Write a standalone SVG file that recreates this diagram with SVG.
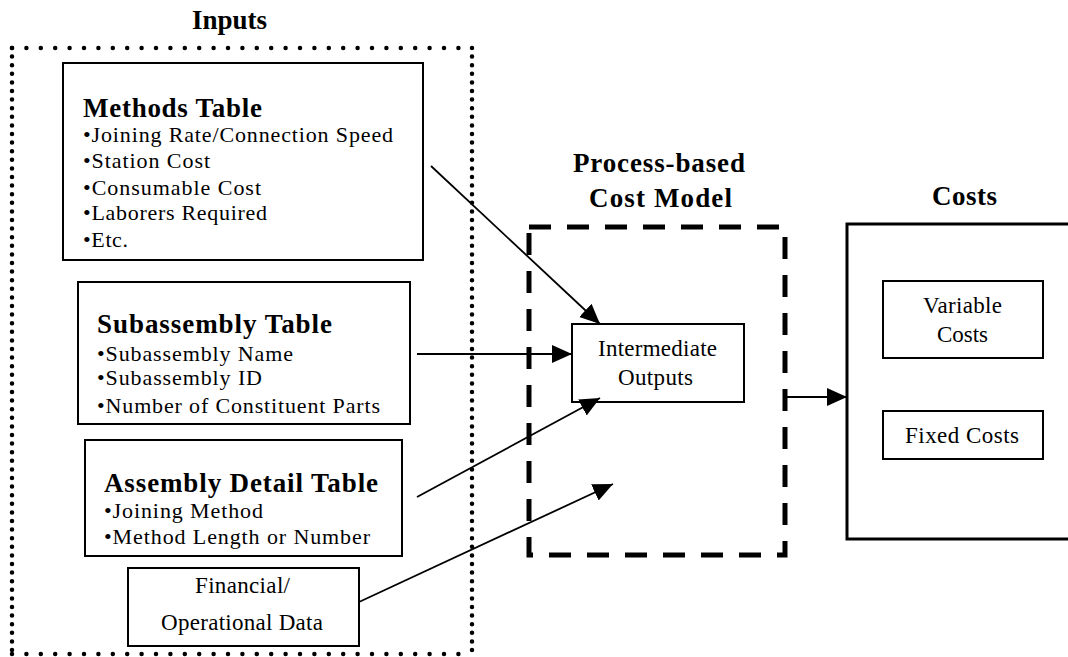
<svg xmlns="http://www.w3.org/2000/svg" width="1068" height="657" viewBox="0 0 1068 657">
<defs>
<marker id="ah" markerUnits="userSpaceOnUse" markerWidth="22" markerHeight="20" refX="20" refY="9" orient="auto">
<path d="M0,0 L20,9 L0,18 z" fill="#000"/>
</marker>
<style>
.t{font-family:"Liberation Serif","Times New Roman",serif;fill:#000}
.b{font-weight:bold;font-size:27px}
.r{font-size:22px}
.m{font-size:23px}
.box{fill:#fff;stroke:#000;stroke-width:2}
.con{stroke:#000;stroke-width:1.8;fill:none;marker-end:url(#ah)}
.dot{stroke:#000;stroke-width:4.5;stroke-linecap:round;fill:none}
</style>
</defs>
<rect width="1068" height="657" fill="#fff"/>

<g id="inputs-group">
<text class="t b" x="192" y="29" textLength="75" lengthAdjust="spacing">Inputs</text>
<line class="dot" x1="12" y1="48" x2="472" y2="48" stroke-dasharray="0 14.4"/>
<line class="dot" x1="12" y1="654" x2="472" y2="654" stroke-dasharray="0 14.4"/>
<line class="dot" x1="12" y1="48" x2="12" y2="654" stroke-dasharray="0 8.6"/>
<line class="dot" x1="472" y1="48" x2="472" y2="654" stroke-dasharray="0 8.6"/>
</g>

<g id="methods-table">
<rect class="box" x="63" y="63" width="360" height="197"/>
<text class="t b" x="83" y="117" textLength="179" lengthAdjust="spacing">Methods Table</text>
<text class="t r" x="83" y="142" textLength="310" lengthAdjust="spacing">•Joining Rate/Connection Speed</text>
<text class="t r" x="83" y="168" textLength="127" lengthAdjust="spacing">•Station Cost</text>
<text class="t r" x="83" y="195" textLength="178" lengthAdjust="spacing">•Consumable Cost</text>
<text class="t r" x="83" y="220" textLength="184" lengthAdjust="spacing">•Laborers Required</text>
<text class="t r" x="83" y="247" textLength="45" lengthAdjust="spacing">•Etc.</text>
</g>

<g id="subassembly-table">
<rect class="box" x="78" y="282" width="332" height="142"/>
<text class="t b" x="97" y="333" textLength="235" lengthAdjust="spacing">Subassembly Table</text>
<text class="t r" x="97" y="361" textLength="196" lengthAdjust="spacing">•Subassembly Name</text>
<text class="t r" x="97" y="385" textLength="165" lengthAdjust="spacing">•Subassembly ID</text>
<text class="t r" x="97" y="413" textLength="283" lengthAdjust="spacing">•Number of Constituent Parts</text>
</g>

<g id="assembly-detail-table">
<rect class="box" x="85" y="440" width="317" height="116"/>
<text class="t b" x="104" y="492" textLength="274" lengthAdjust="spacing">Assembly Detail Table</text>
<text class="t r" x="104" y="518" textLength="159" lengthAdjust="spacing">•Joining Method</text>
<text class="t r" x="104" y="544" textLength="266" lengthAdjust="spacing">•Method Length or Number</text>
</g>

<g id="financial-data">
<rect class="box" x="128" y="568" width="231" height="78"/>
<text class="t m" x="195" y="593" textLength="95" lengthAdjust="spacing">Financial/</text>
<text class="t m" x="161" y="630" textLength="162" lengthAdjust="spacing">Operational Data</text>
</g>

<g id="cost-model">
<text class="t b" x="573" y="172" textLength="172" lengthAdjust="spacing">Process-based</text>
<text class="t b" x="589" y="207" textLength="143" lengthAdjust="spacing">Cost Model</text>
<rect x="529" y="227" width="256" height="328" fill="none" stroke="#000" stroke-width="5" stroke-dasharray="22 16"/>
</g>

<g id="intermediate-outputs">
<rect class="box" x="572" y="324" width="172" height="78"/>
<text class="t m" x="598" y="356" textLength="119" lengthAdjust="spacing">Intermediate</text>
<text class="t m" x="618" y="385" textLength="75" lengthAdjust="spacing">Outputs</text>
</g>

<g id="costs">
<text class="t b" x="932" y="205" textLength="65" lengthAdjust="spacing">Costs</text>
<rect x="847" y="224" width="240" height="315" fill="#fff" stroke="#000" stroke-width="3"/>
</g>

<g id="variable-costs">
<rect class="box" x="883" y="281" width="160" height="77"/>
<text class="t m" x="923" y="313" textLength="79" lengthAdjust="spacing">Variable</text>
<text class="t m" x="937" y="342" textLength="51" lengthAdjust="spacing">Costs</text>
</g>

<g id="fixed-costs">
<rect class="box" x="883" y="411" width="160" height="48"/>
<text class="t m" x="905" y="443" textLength="114" lengthAdjust="spacing">Fixed Costs</text>
</g>

<g id="connectors">
<line class="con" x1="431" y1="166" x2="600" y2="324"/>
<line class="con" x1="417" y1="354" x2="572" y2="354"/>
<line class="con" x1="417" y1="497" x2="600" y2="398"/>
<line class="con" x1="359" y1="602" x2="613" y2="484"/>
<line class="con" x1="787" y1="397" x2="847" y2="397"/>
</g>
</svg>
